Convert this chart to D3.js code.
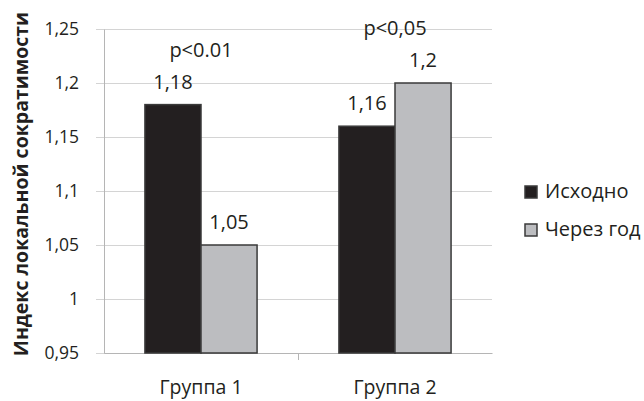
<!DOCTYPE html>
<meta charset="utf-8">
<script src="https://d3js.org/d3.v7.min.js"></script>
<body style="margin:0;background:#fff">
    <div id="viz"></div>
</body>
<style>
    text { font-family: "Open Sans", sans-serif; fill: #231f20; }
</style>
<script>
    let groups = ["Группа 1", "Группа 2"];
    let series = ["Исходно", "Через год"];
    let before = [1.18, 1.16];
    let after = [1.05, 1.2];
    let pLabels = ["p<0.01", "p<0,05"];
    let yTicks = [0.95, 1, 1.05, 1.1, 1.15, 1.2, 1.25];
    let colors = ["#231f20", "#bcbdc0"];

    let W = 644, H = 401;
    let margin = {left : 104, right : 152, top : 29, bottom : 48};

    let svg = d3.select("#viz").append("svg")
        .attr("width", W).attr("height", H);

    let y = d3.scaleLinear()
        .domain([0.95, 1.25])
        .range([H - margin.bottom, margin.top]);
    let x = d3.scaleBand()
        .domain(groups)
        .range([margin.left, W - margin.right]);
    let xs = d3.scaleBand()
        .domain(series)
        .range([0, x.bandwidth()])
        .paddingOuter(0.73);

    let fmt = d => String(d).replace(".", ",");

    // grid
    svg.append("g").selectAll("line")
        .data(yTicks)
        .enter().append("line")
            .attr("x1", margin.left - 8)
            .attr("x2", W - margin.right)
            .attr("y1", d => Math.round(y(d)) + 0.5)
            .attr("y2", d => Math.round(y(d)) + 0.5)
            .style("stroke", "#d4d4d4");

    let yAxis = svg.append("g")
        .attr("transform", `translate(${margin.left},0)`)
        .call(d3.axisLeft(y).tickValues(yTicks).tickFormat(fmt).tickSize(0).tickPadding(25));
    yAxis.select(".domain").style("stroke", "#b5b5b5");
    yAxis.selectAll(".tick text")
        .style("font-size", "17.5px")
        .style("font-family", "'Open Sans', sans-serif")
        .attr("fill", "#231f20");

    let xAxis = svg.append("g")
        .attr("transform", `translate(0,${y(0.95)})`)
        .call(d3.axisBottom(x).tickSize(0).tickPadding(27));
    xAxis.select(".domain").style("stroke", "#b5b5b5");
    xAxis.selectAll(".tick text")
        .style("font-size", "19.5px")
        .style("font-family", "'Open Sans', sans-serif")
        .attr("fill", "#231f20");
    // category divider tick
    svg.append("line")
        .attr("x1", x(groups[1]) + 0.5).attr("x2", x(groups[1]) + 0.5)
        .attr("y1", y(0.95)).attr("y2", y(0.95) + 7)
        .style("stroke", "#b5b5b5");

    let rows = groups.map((g, i) => ({g : g, vals : [before[i], after[i]], p : pLabels[i]}));

    let gg = svg.append("g").selectAll("g")
        .data(rows)
        .enter().append("g")
            .attr("transform", d => `translate(${x(d.g)},0)`);

    gg.selectAll("rect")
        .data(d => d.vals.map((v, j) => ({s : series[j], v : v, j : j})))
        .enter().append("rect")
            .attr("x", d => xs(d.s))
            .attr("y", d => y(d.v))
            .attr("width", xs.bandwidth())
            .attr("height", d => y(0.95) - y(d.v))
            .style("fill", d => colors[d.j])
            .style("stroke", "#3a3a3a")
            .style("stroke-width", 1.5);

    gg.selectAll(".val")
        .data(d => d.vals.map((v, j) => ({s : series[j], v : v})))
        .enter().append("text")
            .attr("x", d => xs(d.s) + xs.bandwidth() / 2)
            .attr("y", d => y(d.v) - 16)
            .attr("text-anchor", "middle")
            .style("font-size", "20px")
            .text(d => fmt(d.v));

    gg.append("text")
        .attr("x", d => x.bandwidth() / 2)
        .attr("y", d => y(d3.max(d.vals)) - 48)
        .attr("text-anchor", "middle")
        .style("font-size", "20px")
        .text(d => d.p);

    // y title
    svg.append("text")
        .attr("transform", `translate(28,184) rotate(-90)`)
        .attr("text-anchor", "middle")
        .style("font-size", "19.5px")
        .style("font-weight", "bold")
        .text("Индекс локальной сократимости");

    // legend
    let leg = svg.append("g").selectAll("g")
        .data(series)
        .enter().append("g")
            .attr("transform", (d, i) => `translate(525,${186 + i * 38})`);
    leg.append("rect")
        .attr("width", 12).attr("height", 12)
        .style("fill", (d, i) => colors[i])
        .style("stroke", "#3a3a3a")
        .style("stroke-width", 1.5);
    leg.append("text")
        .attr("x", 20).attr("y", 12)
        .style("font-size", "20px")
        .text(d => d);
</script>
